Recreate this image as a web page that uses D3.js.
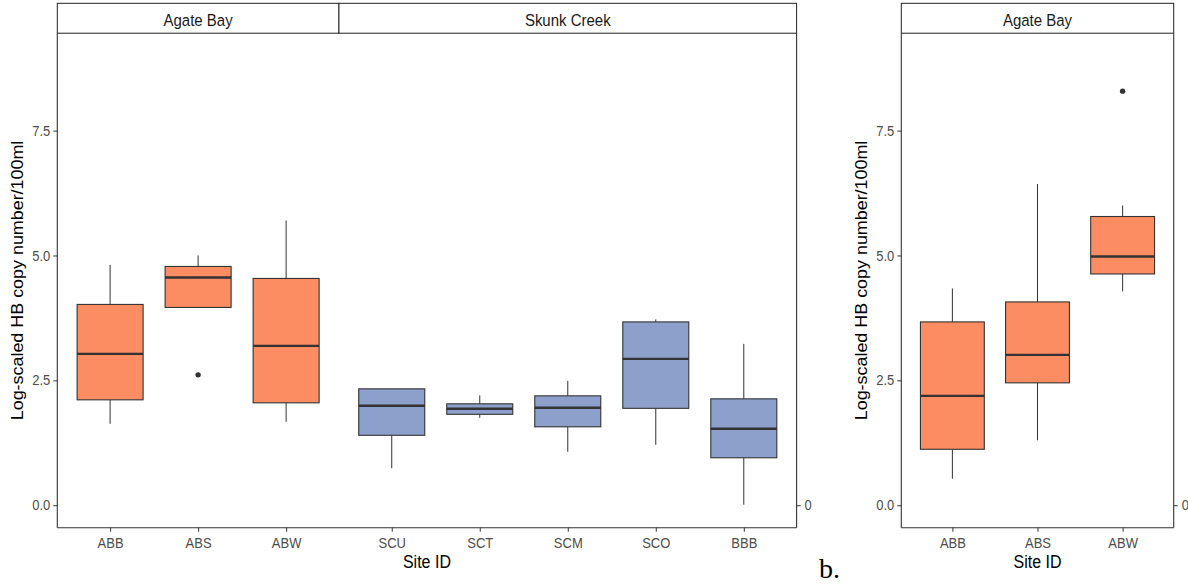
<!DOCTYPE html>
<html>
<head>
<meta charset="utf-8">
<script src="https://cdn.jsdelivr.net/npm/d3@7"></script>
<style>
  body { margin: 0; background: #fff; }
  text { font-family: Arial, "Liberation Sans", sans-serif; }
</style>
</head>
<body>
<div id="chart"></div>
<script>
// panel a: two sites, boxplot stats
const sitesA = ["ABB", "ABS", "ABW", "SCU", "SCT", "SCM", "SCO", "BBB"];
const facetA = ["Agate Bay", "Agate Bay", "Agate Bay", "Skunk Creek", "Skunk Creek", "Skunk Creek", "Skunk Creek", "Skunk Creek"];
const lowA = [1.63, 3.96, 1.67, 0.74, 1.75, 1.07, 1.21, 0.01];
const q1A = [2.11, 3.96, 2.05, 1.40, 1.82, 1.57, 1.94, 0.95];
const medA = [3.03, 4.56, 3.19, 1.99, 1.93, 1.95, 2.93, 1.53];
const q3A = [4.02, 4.78, 4.54, 2.33, 2.03, 2.19, 3.67, 2.13];
const highA = [4.81, 5.00, 5.70, 2.33, 2.20, 2.49, 3.72, 3.23];
const outA = [[], [2.61], [], [], [], [], [], []];

// panel b: Agate Bay only
const sitesB = ["ABB", "ABS", "ABW"];
const facetB = ["Agate Bay", "Agate Bay", "Agate Bay"];
const lowB = [0.53, 1.30, 4.28];
const q1B = [1.12, 2.45, 4.63];
const medB = [2.19, 3.01, 4.98];
const q3B = [3.67, 4.07, 5.78];
const highB = [4.34, 6.43, 6.00];
const outB = [[], [], [8.29]];

const yTicks = [0, 2.5, 5, 7.5];
const siteColor = { "Agate Bay": "#FC8D62", "Skunk Creek": "#8DA0CB" };

const width = 1188, height = 588;
const stretch = 1.12; // the reference text is a bit taller than wide

const svg = d3.select("#chart").append("svg")
  .attr("width", width)
  .attr("height", height)
  .style("background-color", "#fff");

const plotTop = 33.2, plotBottom = 527.7, stripTop = 3.3;
const y = d3.scaleLinear().domain([-0.45, 9.45]).range([plotBottom, plotTop]);

function rows(sites, facet, low, q1, med, q3, high, out) {
  return sites.map((s, i) => ({
    site: s, facet: facet[i], low: low[i], q1: q1[i], med: med[i],
    q3: q3[i], high: high[i], out: out[i]
  }));
}

function drawPanel(data, left, right, titleX) {
  const g = svg.append("g");
  const facets = Array.from(new Set(data.map(d => d.facet)));
  // free space facets: width proportional to number of categories + 1.2 padding
  const units = facets.map(f => data.filter(d => d.facet === f).length + 0.2);
  const total = d3.sum(units);
  let x0 = left;
  const facetScales = facets.map((f, i) => {
    const w = (right - left) * units[i] / total;
    const sc = d3.scalePoint()
      .domain(data.filter(d => d.facet === f).map(d => d.site))
      .range([x0, x0 + w])
      .padding(0.6);
    const out = { facet: f, x0: x0, x1: x0 + w, scale: sc };
    x0 += w;
    return out;
  });

  // strips
  facetScales.forEach(fs => {
    g.append("rect")
      .attr("x", fs.x0).attr("y", stripTop)
      .attr("width", fs.x1 - fs.x0).attr("height", plotTop - stripTop)
      .attr("fill", "#fff").attr("stroke", "#222").attr("stroke-width", 1);
    g.append("text")
      .attr("transform", `translate(${(fs.x0 + fs.x1) / 2},${26}) scale(1,${stretch})`)
      .attr("text-anchor", "middle")
      .attr("font-size", 15)
      .attr("fill", "#1a1a1a")
      .text(fs.facet);
  });

  // boxes
  facetScales.forEach(fs => {
    const x = fs.scale;
    const bw = x.step() * 0.75;
    const fd = data.filter(d => d.facet === fs.facet);
    const box = g.append("g").selectAll("g").data(fd).join("g");

    box.append("line")
      .attr("x1", d => x(d.site)).attr("x2", d => x(d.site))
      .attr("y1", d => y(d.high)).attr("y2", d => y(d.q3))
      .attr("stroke", "#333").attr("stroke-width", 1);
    box.append("line")
      .attr("x1", d => x(d.site)).attr("x2", d => x(d.site))
      .attr("y1", d => y(d.q1)).attr("y2", d => y(d.low))
      .attr("stroke", "#333").attr("stroke-width", 1);
    box.append("rect")
      .attr("x", d => x(d.site) - bw / 2)
      .attr("width", bw)
      .attr("y", d => y(d.q3))
      .attr("height", d => y(d.q1) - y(d.q3))
      .attr("fill", d => siteColor[d.facet])
      .attr("stroke", "#333").attr("stroke-width", 1.1);
    box.append("line")
      .attr("x1", d => x(d.site) - bw / 2).attr("x2", d => x(d.site) + bw / 2)
      .attr("y1", d => y(d.med)).attr("y2", d => y(d.med))
      .attr("stroke", "#333").attr("stroke-width", 2.4);
    box.selectAll("circle")
      .data(d => d.out.map(v => ({ site: d.site, v: v })))
      .join("circle")
      .attr("cx", d => x(d.site))
      .attr("cy", d => y(d.v))
      .attr("r", 2.7)
      .attr("fill", "#333");

    // x axis ticks for this facet
    const ax = g.append("g")
      .attr("transform", `translate(0,${plotBottom})`)
      .call(d3.axisBottom(x).tickSize(4).tickSizeOuter(0).tickPadding(3));
    ax.select(".domain").remove();
    ax.selectAll(".tick line").attr("stroke", "#333");
    ax.selectAll(".tick text")
      .attr("font-size", 13)
      .attr("fill", "#4d4d4d")
      .attr("dy", null)
      .attr("y", 0)
      .attr("transform", `translate(0,20.5) scale(1,${stretch})`);
  });

  // bottom axis line
  g.append("line")
    .attr("x1", left).attr("x2", right)
    .attr("y1", plotBottom).attr("y2", plotBottom)
    .attr("stroke", "#333").attr("stroke-width", 1.1);

  // left y axis
  const ay = g.append("g")
    .attr("transform", `translate(${left},0)`)
    .call(d3.axisLeft(y).tickValues(yTicks).tickFormat(d3.format(".1f"))
      .tickSize(4).tickPadding(3));
  ay.select(".domain")
    .attr("d", `M0,${plotTop}V${plotBottom}`)
    .attr("stroke", "#333").attr("stroke-width", 1.1);
  ay.selectAll(".tick line").attr("stroke", "#333");
  ay.selectAll(".tick text")
    .attr("font-size", 13)
    .attr("fill", "#4d4d4d")
    .attr("dy", null)
    .attr("transform", `translate(0,4.6) scale(1,${stretch})`);

  // secondary right axis with a single "0"
  const ar = g.append("g")
    .attr("transform", `translate(${right},0)`)
    .call(d3.axisRight(y).tickValues([0]).tickFormat(d3.format("d"))
      .tickSize(4).tickPadding(4));
  ar.select(".domain")
    .attr("d", `M0,${plotTop}V${plotBottom}`)
    .attr("stroke", "#333").attr("stroke-width", 1.1);
  ar.selectAll(".tick line").attr("stroke", "#333");
  ar.selectAll(".tick text")
    .attr("font-size", 13)
    .attr("fill", "#4d4d4d")
    .attr("dy", null)
    .attr("transform", `translate(0,4.6) scale(1,${stretch})`);

  // axis titles
  g.append("text")
    .attr("transform", `translate(${titleX},${(plotTop + plotBottom) / 2}) scale(1,${stretch}) rotate(-90)`)
    .attr("text-anchor", "middle")
    .attr("font-size", 16)
    .attr("fill", "#000")
    .text("Log-scaled HB copy number/100ml");
  g.append("text")
    .attr("transform", `translate(${(left + right) / 2},${567.5}) scale(1,${stretch})`)
    .attr("text-anchor", "middle")
    .attr("font-size", 16)
    .attr("fill", "#000")
    .text("Site ID");
}

drawPanel(rows(sitesA, facetA, lowA, q1A, medA, q3A, highA, outA), 57.3, 796.6, 23);
drawPanel(rows(sitesB, facetB, lowB, q1B, medB, q3B, highB, outB), 901.3, 1173.7, 867);

svg.append("text")
  .attr("x", 819)
  .attr("y", 578)
  .style("font-family", "'Liberation Serif', 'Times New Roman', serif")
  .attr("font-size", 28)
  .attr("fill", "#000")
  .text("b.");
</script>
</body>
</html>
